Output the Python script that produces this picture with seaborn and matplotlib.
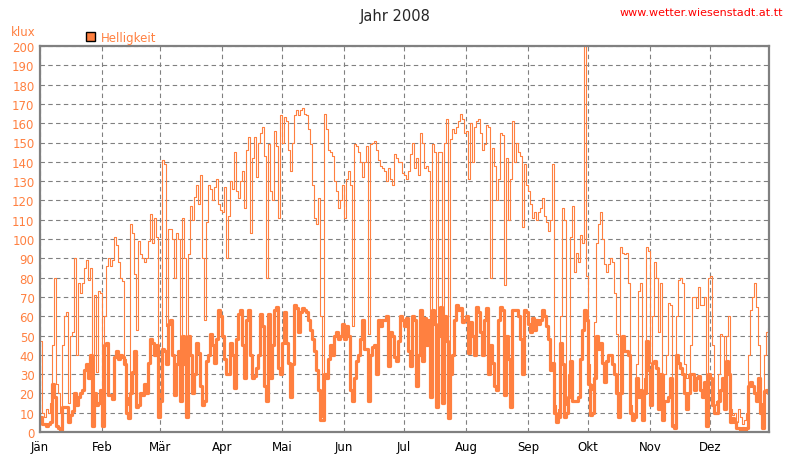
import numpy as np
import pandas as pd
import seaborn as sns
from matplotlib import pyplot as plt
from matplotlib.patches import Patch

# daily brightness 2008, klux
max_jan = [47, 10, 8, 12, 10, 15, 45, 80, 25, 20, 10, 45, 60, 62, 15, 50, 52, 90, 40, 77, 72, 77, 85, 89, 79, 85, 18, 71, 31, 73, 72]
max_feb = [5, 60, 86, 90, 86, 89, 101, 97, 88, 80, 78, 38, 14, 18, 108, 103, 82, 53, 99, 92, 90, 88, 90, 99, 113, 98, 111, 101, 18]
max_mar = [20, 141, 139, 55, 105, 105, 100, 80, 103, 100, 40, 111, 90, 15, 92, 117, 110, 122, 128, 118, 133, 90, 58, 109, 128, 126, 120, 127, 131, 118, 115]
max_apr = [114, 127, 90, 112, 130, 126, 145, 125, 121, 130, 135, 116, 146, 153, 103, 142, 153, 132, 150, 155, 158, 143, 80, 149, 125, 120, 156, 148, 111, 164]
max_mai = [150, 163, 161, 146, 135, 150, 164, 167, 164, 167, 168, 165, 164, 157, 149, 128, 111, 108, 121, 60, 8, 165, 157, 146, 145, 143, 130, 125, 116, 120, 128]
max_jun = [111, 131, 135, 128, 55, 149, 148, 145, 140, 132, 140, 148, 51, 149, 150, 151, 146, 141, 138, 137, 135, 130, 137, 131, 128, 144, 142, 140, 140, 134]
max_jul = [133, 131, 135, 144, 150, 137, 142, 133, 155, 150, 137, 138, 135, 20, 149, 145, 15, 145, 145, 18, 150, 162, 10, 152, 157, 155, 158, 161, 165, 162, 155]
max_aug = [156, 131, 160, 140, 158, 161, 162, 155, 146, 149, 159, 158, 80, 147, 138, 120, 131, 155, 154, 76, 142, 110, 131, 161, 140, 150, 145, 143, 106, 139, 128]
max_sep = [125, 118, 111, 114, 110, 114, 116, 121, 112, 109, 104, 110, 139, 14, 8, 12, 60, 116, 110, 14, 30, 101, 117, 83, 93, 88, 102, 98, 200, 81]
max_okt = [35, 22, 25, 57, 98, 108, 114, 100, 87, 83, 87, 90, 88, 72, 51, 17, 96, 93, 92, 93, 77, 14, 8, 10, 35, 73, 77, 12, 28, 96, 94]
max_nov = [36, 60, 88, 80, 52, 77, 12, 30, 40, 67, 66, 4, 3, 60, 79, 80, 77, 35, 28, 30, 45, 70, 70, 64, 75, 66, 66, 70, 15, 80]
max_dez = [81, 45, 14, 16, 30, 51, 50, 28, 50, 60, 12, 9, 10, 5, 12, 8, 4, 6, 10, 40, 63, 70, 77, 65, 45, 15, 3, 40, 52, 54, 54]

mean_jan = [8, 4, 4, 3, 4, 5, 25, 18, 3, 2, 1, 13, 13, 13, 5, 9, 11, 20, 14, 18, 20, 22, 32, 35, 28, 40, 3, 20, 14, 15, 22]
mean_feb = [3, 45, 46, 19, 19, 17, 39, 42, 38, 40, 39, 35, 10, 7, 20, 31, 42, 13, 14, 20, 19, 25, 20, 36, 48, 46, 40, 45, 8]
mean_mar = [16, 43, 42, 35, 56, 58, 40, 19, 35, 42, 16, 50, 35, 8, 50, 40, 20, 30, 46, 41, 24, 14, 16, 37, 40, 51, 45, 36, 48, 63, 60]
mean_apr = [50, 38, 30, 30, 46, 40, 23, 48, 61, 63, 45, 28, 58, 63, 40, 28, 29, 33, 40, 61, 55, 24, 16, 61, 28, 45, 63, 65, 33, 30]
mean_mai = [46, 62, 46, 36, 18, 35, 66, 64, 52, 62, 64, 63, 62, 58, 53, 48, 42, 32, 22, 6, 6, 30, 28, 38, 45, 40, 50, 52, 48, 50, 56]
mean_jun = [48, 55, 50, 22, 16, 28, 37, 40, 48, 58, 43, 43, 16, 40, 44, 45, 30, 58, 55, 58, 58, 60, 34, 52, 50, 39, 37, 47, 60, 58]
mean_jul = [55, 59, 42, 34, 60, 58, 24, 40, 63, 37, 59, 45, 58, 18, 63, 56, 13, 50, 65, 15, 60, 47, 7, 30, 40, 58, 66, 63, 64, 57, 58]
mean_aug = [60, 41, 57, 50, 40, 65, 62, 52, 40, 58, 64, 30, 45, 36, 24, 22, 58, 65, 63, 19, 50, 38, 13, 63, 63, 63, 60, 48, 30, 63, 62]
mean_sep = [56, 52, 59, 53, 58, 56, 58, 63, 60, 55, 48, 32, 36, 10, 5, 8, 46, 35, 8, 10, 18, 37, 16, 16, 16, 18, 38, 53, 63, 58]
mean_okt = [25, 9, 10, 28, 50, 43, 46, 36, 26, 37, 40, 40, 35, 30, 20, 8, 20, 50, 42, 42, 40, 10, 6, 8, 28, 18, 22, 6, 20, 47, 32]
mean_nov = [14, 36, 37, 33, 12, 30, 6, 16, 16, 18, 28, 3, 2, 40, 36, 33, 30, 20, 12, 20, 30, 30, 22, 28, 29, 22, 18, 26, 3, 30]
mean_dez = [28, 14, 10, 10, 16, 22, 28, 12, 37, 30, 5, 7, 5, 2, 2, 1, 2, 1, 2, 24, 26, 24, 20, 16, 28, 10, 2, 21, 22, 20, 18]

months = ['Jän', 'Feb', 'Mär', 'Apr', 'Mai', 'Jun', 'Jul', 'Aug', 'Sep', 'Okt', 'Nov', 'Dez']
month_start = [0, 31, 60, 91, 121, 152, 182, 213, 244, 274, 305, 335]

max_klux = (max_jan + max_feb + max_mar + max_apr + max_mai + max_jun +
            max_jul + max_aug + max_sep + max_okt + max_nov + max_dez)
mean_klux = (mean_jan + mean_feb + mean_mar + mean_apr + mean_mai + mean_jun +
             mean_jul + mean_aug + mean_sep + mean_okt + mean_nov + mean_dez)

df = pd.DataFrame({'tag': np.arange(len(max_klux)) + 0.5,
                   'max': max_klux, 'mittel': mean_klux})

orange = '#FF8040'
grey = '#808080'

sns.set_style("white")
plt.rcParams['font.family'] = ['DejaVu Sans']

fig = plt.figure(figsize=(7.9, 4.64), dpi=100)
ax = fig.add_axes([40/790, 31/464, 729/790, 386/464])

sns.lineplot(data=df, x='tag', y='max', ax=ax, color=orange, lw=0.8, drawstyle='steps-mid')
sns.lineplot(data=df, x='tag', y='mittel', ax=ax, color=orange, lw=2.3, drawstyle='steps-mid')

ax.set_xlim(0, 364.5)
ax.set_ylim(0, 200)
ax.set_xticks(month_start)
ax.set_xticklabels(months, fontsize=8.5, color='black')
ax.set_yticks(np.arange(0, 201, 10))
ax.set_yticklabels([str(v) for v in range(0, 201, 10)], fontsize=8.5, color=orange)
ax.tick_params(length=0, pad=4)
ax.tick_params(axis='x', pad=6)
ax.set_xlabel('')
ax.set_ylabel('')
ax.grid(True, color=grey, lw=0.8, ls=(0, (4, 3)))
ax.set_axisbelow(True)
for s in ax.spines.values():
    s.set_color(grey)
    s.set_linewidth(1.6)

fig.text(395/790, 1 - 16/464, 'Jahr 2008', ha='center', va='center', fontsize=10.5)
fig.text(783/790, 1 - 13/464, 'www.wetter.wiesenstadt.at.tt', ha='right', va='center',
         fontsize=8, color='#FF0000')
fig.text(11/790, 1 - 33/464, 'klux', ha='left', va='center', fontsize=8.5, color=orange)

handle = Patch(facecolor=orange, edgecolor='black', lw=1.0)
ax.legend([handle], ['Helligkeit'], loc='lower left', bbox_to_anchor=(44/729, 1.0),
          frameon=False, fontsize=8.5, labelcolor=orange, handlelength=0.75,
          handleheight=0.75, handletextpad=0.5, borderaxespad=0.1, borderpad=0.1)

fig.savefig('out.png', dpi=100, facecolor='white')
